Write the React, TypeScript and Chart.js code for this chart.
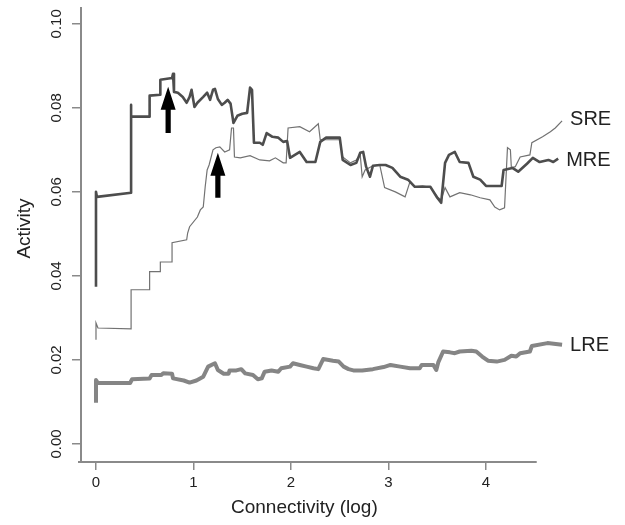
import React, { useEffect, useRef } from 'react';
import { Chart, registerables } from 'chart.js';

Chart.register(...registerables);

// ---------------- data (x = log connectivity, y = activity) ----------------
const seriesNames = ['MRE', 'SRE', 'LRE'];

const mreConnectivity = [0.00, 0.00, 0.01, 0.36, 0.36, 0.36, 0.55, 0.55, 0.66, 0.66, 0.78, 0.79, 0.80, 0.84, 0.89, 0.93, 0.96, 0.98, 1.01, 1.04, 1.10, 1.14, 1.17, 1.20, 1.22, 1.25, 1.29, 1.32, 1.35, 1.38, 1.41, 1.45, 1.50, 1.55, 1.58, 1.60, 1.62, 1.68, 1.71, 1.75, 1.81, 1.87, 1.92, 1.96, 1.99, 2.04, 2.09, 2.16, 2.25, 2.30, 2.36, 2.43, 2.50, 2.53, 2.61, 2.67, 2.71, 2.74, 2.77, 2.81, 2.84, 2.91, 2.97, 3.04, 3.12, 3.20, 3.27, 3.35, 3.43, 3.50, 3.54, 3.58, 3.62, 3.68, 3.73, 3.82, 3.87, 3.94, 4.00, 4.09, 4.16, 4.18, 4.27, 4.33, 4.42, 4.48, 4.55, 4.64, 4.69, 4.74];
const mreActivity = [0.0374, 0.0600, 0.0588, 0.0598, 0.0807, 0.0779, 0.0779, 0.0829, 0.0831, 0.0867, 0.0871, 0.0881, 0.0838, 0.0836, 0.0826, 0.0812, 0.0826, 0.0843, 0.0802, 0.0812, 0.0826, 0.0836, 0.0819, 0.0843, 0.0845, 0.0821, 0.0807, 0.0812, 0.0819, 0.0810, 0.0764, 0.0781, 0.0786, 0.0788, 0.0848, 0.0843, 0.0717, 0.0717, 0.0712, 0.0740, 0.0731, 0.0729, 0.0719, 0.0721, 0.0681, 0.0688, 0.0695, 0.0671, 0.0671, 0.0719, 0.0729, 0.0729, 0.0729, 0.0676, 0.0664, 0.0669, 0.0693, 0.0695, 0.0660, 0.0636, 0.0662, 0.0664, 0.0664, 0.0657, 0.0636, 0.0629, 0.0612, 0.0612, 0.0612, 0.0586, 0.0574, 0.0669, 0.0688, 0.0695, 0.0671, 0.0669, 0.0636, 0.0629, 0.0614, 0.0614, 0.0614, 0.0652, 0.0657, 0.0648, 0.0667, 0.0681, 0.0671, 0.0676, 0.0671, 0.0679];

const sreConnectivity = [0.00, 0.00, 0.02, 0.36, 0.36, 0.55, 0.55, 0.66, 0.66, 0.78, 0.78, 0.93, 0.94, 0.96, 1.04, 1.07, 1.10, 1.12, 1.14, 1.16, 1.20, 1.23, 1.27, 1.32, 1.37, 1.39, 1.41, 1.42, 1.48, 1.58, 1.68, 1.78, 1.84, 1.92, 1.95, 1.97, 2.09, 2.19, 2.28, 2.30, 2.40, 2.50, 2.53, 2.61, 2.67, 2.71, 2.73, 2.76, 2.84, 2.91, 2.96, 3.07, 3.17, 3.22, 3.27, 3.35, 3.43, 3.50, 3.54, 3.58, 3.63, 3.73, 3.84, 3.94, 4.04, 4.09, 4.14, 4.19, 4.22, 4.25, 4.26, 4.30, 4.35, 4.45, 4.47, 4.58, 4.66, 4.71, 4.78];
const sreActivity = [0.0248, 0.0288, 0.0276, 0.0274, 0.0367, 0.0367, 0.0410, 0.0410, 0.0433, 0.0433, 0.0479, 0.0486, 0.0502, 0.0517, 0.0540, 0.0557, 0.0564, 0.0612, 0.0652, 0.0664, 0.0700, 0.0705, 0.0707, 0.0695, 0.0700, 0.0752, 0.0752, 0.0683, 0.0681, 0.0686, 0.0676, 0.0674, 0.0681, 0.0669, 0.0669, 0.0752, 0.0755, 0.0743, 0.0762, 0.0724, 0.0724, 0.0724, 0.0683, 0.0669, 0.0676, 0.0688, 0.0636, 0.0652, 0.0662, 0.0664, 0.0610, 0.0600, 0.0588, 0.0624, 0.0612, 0.0614, 0.0610, 0.0588, 0.0581, 0.0610, 0.0588, 0.0598, 0.0593, 0.0586, 0.0581, 0.0564, 0.0557, 0.0562, 0.0705, 0.0700, 0.0657, 0.0660, 0.0683, 0.0688, 0.0717, 0.0731, 0.0743, 0.0752, 0.0769];

const lreConnectivity = [0.00, 0.00, 0.02, 0.35, 0.37, 0.55, 0.57, 0.67, 0.69, 0.78, 0.79, 0.90, 0.96, 1.03, 1.10, 1.15, 1.22, 1.25, 1.31, 1.36, 1.37, 1.44, 1.49, 1.53, 1.61, 1.66, 1.70, 1.73, 1.80, 1.87, 1.90, 1.99, 2.02, 2.09, 2.16, 2.23, 2.28, 2.33, 2.43, 2.49, 2.54, 2.59, 2.64, 2.73, 2.84, 2.95, 3.02, 3.12, 3.22, 3.32, 3.34, 3.46, 3.49, 3.51, 3.56, 3.63, 3.68, 3.73, 3.85, 3.90, 3.96, 4.02, 4.11, 4.19, 4.26, 4.31, 4.35, 4.45, 4.47, 4.63, 4.78];
const lreActivity = [0.0098, 0.0152, 0.0145, 0.0145, 0.0154, 0.0156, 0.0164, 0.0164, 0.0168, 0.0167, 0.0156, 0.0151, 0.0146, 0.0151, 0.0160, 0.0184, 0.0192, 0.0176, 0.0167, 0.0167, 0.0175, 0.0175, 0.0178, 0.0168, 0.0164, 0.0154, 0.0156, 0.0172, 0.0175, 0.0172, 0.0180, 0.0184, 0.0192, 0.0188, 0.0184, 0.0180, 0.0178, 0.0202, 0.0198, 0.0196, 0.0184, 0.0178, 0.0175, 0.0175, 0.0178, 0.0183, 0.0188, 0.0184, 0.0180, 0.0180, 0.0188, 0.0188, 0.0176, 0.0194, 0.0220, 0.0218, 0.0216, 0.0220, 0.0222, 0.0220, 0.0208, 0.0198, 0.0196, 0.0200, 0.0210, 0.0208, 0.0216, 0.0220, 0.0233, 0.0240, 0.0236];

const xTicks = [0, 1, 2, 3, 4];
const yTicks = [0, 0.02, 0.04, 0.06, 0.08, 0.1];
const yTickLabels = ['0.00', '0.02', '0.04', '0.06', '0.08', '0.10'];

// arrows: [connectivity, tip activity, tail activity]
const arrowX = [0.74, 1.25];
const arrowTip = [0.0850, 0.0693];
const arrowTail = [0.0740, 0.0586];

const X_MIN = -0.164;
const X_MAX = 4.81;
const X_AXIS_END = 4.52;
const Y_MIN = -0.0043;
const Y_MAX = 0.104;

const xTitle = 'Connectivity (log)';
const yTitle = 'Activity';

const AXIS_COLOR = '#8a8a8a';
const TEXT_COLOR = '#222222';
const FONT = '"Liberation Sans", Arial, sans-serif';

const zip = (xs: number[], ys: number[]) => xs.map((x, i) => ({ x, y: ys[i] }));

const decorPlugin = {
  id: 'decor',
  afterDatasetsDraw(chart: any) {
    const { ctx, chartArea } = chart;
    const xs = chart.scales.x;
    const ys = chart.scales.y;
    ctx.save();

    // axis lines (R style L axes)
    ctx.strokeStyle = AXIS_COLOR;
    ctx.lineWidth = 2;
    ctx.beginPath();
    ctx.moveTo(chartArea.left + 1, chartArea.top);
    ctx.lineTo(chartArea.left + 1, chartArea.bottom);
    ctx.stroke();
    ctx.beginPath();
    ctx.moveTo(chartArea.left - 2, chartArea.bottom);
    ctx.lineTo(xs.getPixelForValue(X_AXIS_END), chartArea.bottom);
    ctx.stroke();

    // y tick labels (rotated)
    ctx.fillStyle = TEXT_COLOR;
    ctx.font = `15px ${FONT}`;
    ctx.textAlign = 'center';
    ctx.textBaseline = 'middle';
    yTicks.forEach((v, i) => {
      const py = ys.getPixelForValue(v);
      ctx.save();
      ctx.translate(chartArea.left - 23, py);
      ctx.rotate(-Math.PI / 2);
      ctx.fillText(yTickLabels[i], 0, 0);
      ctx.restore();
    });

    // axis titles
    ctx.font = `19px ${FONT}`;
    ctx.save();
    ctx.translate(25, (chartArea.top + chartArea.bottom) / 2 - 6);
    ctx.rotate(-Math.PI / 2);
    ctx.fillText(yTitle, 0, 0);
    ctx.restore();
    const xMid = (xs.getPixelForValue(X_MIN) + xs.getPixelForValue(X_AXIS_END)) / 2;
    ctx.fillText(xTitle, xMid - 4, chartArea.bottom + 46);

    // arrows
    ctx.fillStyle = '#000000';
    arrowX.forEach((ax, i) => {
      const cx = xs.getPixelForValue(ax);
      const tip = ys.getPixelForValue(arrowTip[i]);
      const tail = ys.getPixelForValue(arrowTail[i]);
      const headLen = 23;
      const headHalf = 7.5;
      const shaftHalf = 2.6;
      ctx.beginPath();
      ctx.moveTo(cx, tip);
      ctx.lineTo(cx + headHalf, tip + headLen);
      ctx.lineTo(cx + shaftHalf, tip + headLen);
      ctx.lineTo(cx + shaftHalf, tail);
      ctx.lineTo(cx - shaftHalf, tail);
      ctx.lineTo(cx - shaftHalf, tip + headLen);
      ctx.lineTo(cx - headHalf, tip + headLen);
      ctx.closePath();
      ctx.fill();
    });

    // series labels at line ends
    ctx.fillStyle = TEXT_COLOR;
    ctx.font = `20px ${FONT}`;
    ctx.textAlign = 'left';
    ctx.textBaseline = 'middle';
    const labelDy = [2, -1, 1];
    chart.data.datasets.forEach((ds: any, i: number) => {
      const meta = chart.getDatasetMeta(i);
      const last = meta.data[meta.data.length - 1];
      ctx.fillText(ds.label, last.x + 8, last.y + labelDy[i]);
    });

    ctx.restore();
  },
};

export default function App() {
  const canvasRef = useRef<HTMLCanvasElement | null>(null);

  useEffect(() => {
    if (!canvasRef.current) return;
    const chart = new Chart(canvasRef.current, {
      type: 'line',
      data: {
        datasets: [
          {
            label: seriesNames[0],
            data: zip(mreConnectivity, mreActivity),
            borderColor: '#4d4d4d',
            borderWidth: 2.6,
            pointRadius: 0,
            tension: 0,
            borderJoinStyle: 'round',
            fill: false,
          },
          {
            label: seriesNames[1],
            data: zip(sreConnectivity, sreActivity),
            borderColor: '#727272',
            borderWidth: 1.2,
            pointRadius: 0,
            tension: 0,
            fill: false,
          },
          {
            label: seriesNames[2],
            data: zip(lreConnectivity, lreActivity),
            borderColor: '#858585',
            borderWidth: 4,
            pointRadius: 0,
            tension: 0,
            borderJoinStyle: 'round',
            fill: false,
          },
        ],
      },
      options: {
        animation: false,
        responsive: false,
        devicePixelRatio: 1,
        layout: { padding: { left: 8, top: 7, right: 60, bottom: 0 } },
        plugins: {
          legend: { display: false },
          tooltip: { enabled: false },
        },
        scales: {
          x: {
            type: 'linear',
            min: X_MIN,
            max: X_MAX,
            afterBuildTicks: (scale: any) => {
              scale.ticks = xTicks.map((v) => ({ value: v }));
            },
            afterFit: (scale: any) => {
              scale.height = 63;
            },
            grid: {
              drawOnChartArea: false,
              drawTicks: true,
              tickLength: 8,
              color: AXIS_COLOR,
              lineWidth: 1.5,
            },
            border: { display: false },
            ticks: {
              color: TEXT_COLOR,
              font: { family: FONT, size: 15 },
              padding: 4,
              maxRotation: 0,
              autoSkip: false,
              callback: (v: any) => String(v),
            },
            title: { display: false },
          },
          y: {
            type: 'linear',
            min: Y_MIN,
            max: Y_MAX,
            afterBuildTicks: (scale: any) => {
              scale.ticks = yTicks.map((v) => ({ value: v }));
            },
            afterFit: (scale: any) => {
              scale.width = 72;
            },
            grid: {
              drawOnChartArea: false,
              drawTicks: true,
              tickLength: 8,
              color: AXIS_COLOR,
              lineWidth: 1.5,
            },
            border: { display: false },
            ticks: { display: false },
            title: { display: false },
          },
        },
      },
      plugins: [decorPlugin],
    } as any);
    return () => chart.destroy();
  }, []);

  return (
    <div style={{ position: 'absolute', left: 0, top: 0, width: 625, height: 525, background: '#ffffff' }}>
      <canvas ref={canvasRef} width={625} height={525} />
    </div>
  );
}
